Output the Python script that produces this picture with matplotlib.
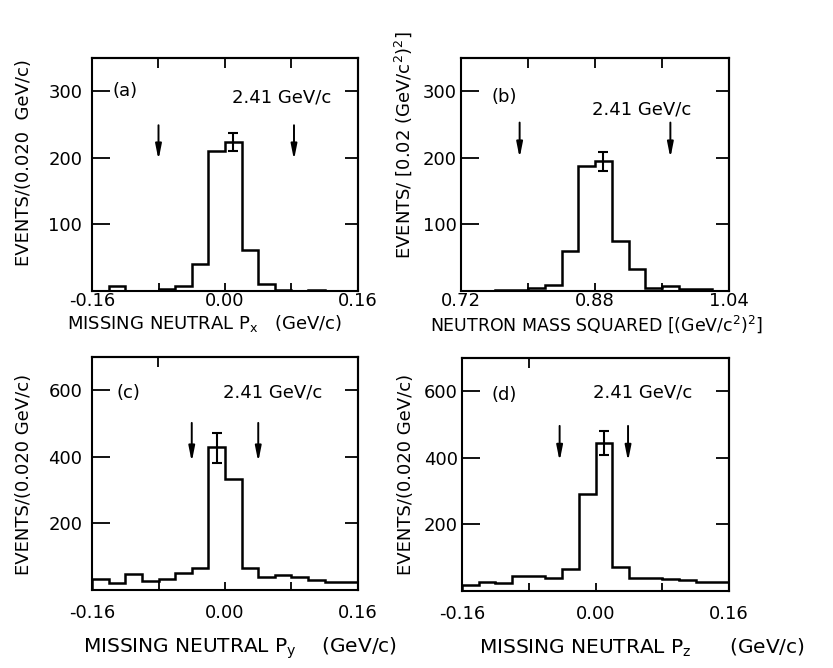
import numpy as np
import matplotlib.pyplot as plt

plt.rcParams['font.family'] = ['DejaVu Sans']
plt.rcParams['mathtext.default'] = 'regular'

# bin edges (0.02 wide)
p_edges = np.round(np.arange(-0.16, 0.1601, 0.02), 3)
m_edges = np.round(np.arange(0.72, 1.0401, 0.02), 3)

# counts
counts_a = [0, 8, 0, 0, 3, 8, 41, 211, 224, 61, 10, 2, 0, 1, 0, 0]
counts_b = [0, 0, 1, 1, 4, 9, 60, 188, 195, 75, 33, 4, 8, 3, 3, 0]
counts_c = [33, 20, 47, 28, 33, 50, 65, 430, 333, 65, 40, 45, 40, 30, 25, 23]
counts_d = [18, 28, 25, 46, 46, 38, 67, 290, 445, 72, 40, 38, 35, 32, 28, 27]

# error bar on the peak bin: x, y, err
err_a = (0.01, 224, 14)
err_b = (0.89, 195, 14)
err_c = (-0.01, 428, 45)
err_d = (0.01, 445, 37)

# cut arrows: x positions, y top, y tip
arrows_a = ([-0.08, 0.083], 249, 197)
arrows_b = ([0.79, 0.97], 253, 200)
arrows_c = ([-0.04, 0.04], 502, 385)
arrows_d = ([-0.043, 0.039], 496, 390)

panels = [
    dict(pos=[92, 58, 358, 291], edges=p_edges, counts=counts_a, err=err_a, arr=arrows_a,
         ylim=350, yticks=[100, 200, 300], xticks=[-0.16, 0.0, 0.16], minor=[-0.08, 0.08],
         xlabels=['-0.16', '0.00', '0.16'], top=[-0.08, 0.0, 0.08],
         tag='(a)', tagxy=(113, 91), mom='2.41 GeV/c', momxy=(232, 98),
         ylabel='EVENTS/(0.020  GeV/c)', ylabxy=(24, 163),
         xlabel='MISSING NEUTRAL P$_{x}$   (GeV/c)', xlabxy=(205, 324), xfs=13, ypad=7, xpad=1),
    dict(pos=[461, 58, 729, 291], edges=m_edges, counts=counts_b, err=err_b, arr=arrows_b,
         ylim=350, yticks=[100, 200, 300], xticks=[0.72, 0.88, 1.04], minor=[0.80, 0.96],
         xlabels=['0.72', '0.88', '1.04'], top=[0.80, 0.88, 0.96],
         tag='(b)', tagxy=(492, 97), mom='2.41 GeV/c', momxy=(592, 110),
         ylabel='EVENTS/ [0.02 (GeV/c$^{2}$)$^{2}$]', ylabxy=(403, 145),
         xlabel='NEUTRON MASS SQUARED [(GeV/c$^{2}$)$^{2}$]', xlabxy=(597, 324), xfs=12.5, ypad=3, xpad=1),
    dict(pos=[92, 357, 358, 590], edges=p_edges, counts=counts_c, err=err_c, arr=arrows_c,
         ylim=700, yticks=[200, 400, 600], xticks=[-0.16, 0.0, 0.16], minor=[-0.08, 0.08],
         xlabels=['-0.16', '0.00', '0.16'], top=[-0.08],
         tag='(c)', tagxy=(117, 393), mom='2.41 GeV/c', momxy=(223, 393),
         ylabel='EVENTS/(0.020 GeV/c)', ylabxy=(24, 474),
         xlabel='MISSING NEUTRAL P$_{y}$    (GeV/c)', xlabxy=(240, 648), xfs=14.5, ypad=7, xpad=10),
    dict(pos=[462, 358, 729, 591], edges=p_edges, counts=counts_d, err=err_d, arr=arrows_d,
         ylim=700, yticks=[200, 400, 600], xticks=[-0.16, 0.0, 0.16], minor=[-0.08, 0.08],
         xlabels=['-0.16', '0.00', '0.16'], top=[-0.08],
         tag='(d)', tagxy=(492, 395), mom='2.41 GeV/c', momxy=(593, 393),
         ylabel='EVENTS/(0.020 GeV/c)', ylabxy=(406, 474),
         xlabel='MISSING NEUTRAL P$_{z}$      (GeV/c)', xlabxy=(642, 648), xfs=14.5, ypad=3, xpad=10),
]

W, H = 833, 668
fig = plt.figure(figsize=(W / 100, H / 100), dpi=100)

for p in panels:
    x0, y0, x1, y1 = p['pos']
    ax = fig.add_axes([x0 / W, 1 - y1 / H, (x1 - x0) / W, (y1 - y0) / H])
    edges = p['edges']
    ax.stairs(p['counts'], edges, color='black', lw=1.8, baseline=0)
    ex, ey, ee = p['err']
    ax.errorbar([ex], [ey], yerr=[ee], fmt='none', ecolor='black', elinewidth=1.5, capsize=3.5, capthick=1.5)
    xs, ytop, ytip = p['arr']
    for xa in xs:
        ax.annotate('', xy=(xa, ytip), xytext=(xa, ytop),
                    arrowprops=dict(arrowstyle='-|>,head_length=0.9,head_width=0.18', color='black', lw=1.4, shrinkA=0, shrinkB=0))
    ax.set_xlim(edges[0], edges[-1])
    ax.set_ylim(0, p['ylim'])

    ax.set_xticks(p['xticks'])
    ax.set_xticklabels(p['xlabels'])
    ax.set_xticks(p['minor'], minor=True)
    ax.set_yticks(p['yticks'])
    ax.tick_params(axis='x', which='both', direction='in', length=6, width=1.3, labelsize=13, pad=p['xpad'], top=False)
    ax.tick_params(axis='y', direction='in', length=13, width=1.3, labelsize=13, pad=p['ypad'], right=False)

    top = ax.secondary_xaxis('top')
    top.set_xticks(p['top'])
    top.tick_params(direction='in', length=7, width=1.3, labeltop=False)
    right = ax.secondary_yaxis('right')
    right.set_yticks(p['yticks'])
    right.tick_params(direction='in', length=9.5, width=1.3, labelright=False)
    for s in list(ax.spines.values()) + list(top.spines.values()) + list(right.spines.values()):
        s.set_linewidth(1.5)

    fig.text(p['tagxy'][0] / W, 1 - p['tagxy'][1] / H, p['tag'], fontsize=13, ha='left', va='center')
    fig.text(p['momxy'][0] / W, 1 - p['momxy'][1] / H, p['mom'], fontsize=13, ha='left', va='center')
    fig.text(p['ylabxy'][0] / W, 1 - p['ylabxy'][1] / H, p['ylabel'], fontsize=13, rotation=90,
             ha='center', va='center')
    fig.text(p['xlabxy'][0] / W, 1 - p['xlabxy'][1] / H, p['xlabel'], fontsize=p['xfs'],
             ha='center', va='center')

fig.savefig('out.png', dpi=100)
